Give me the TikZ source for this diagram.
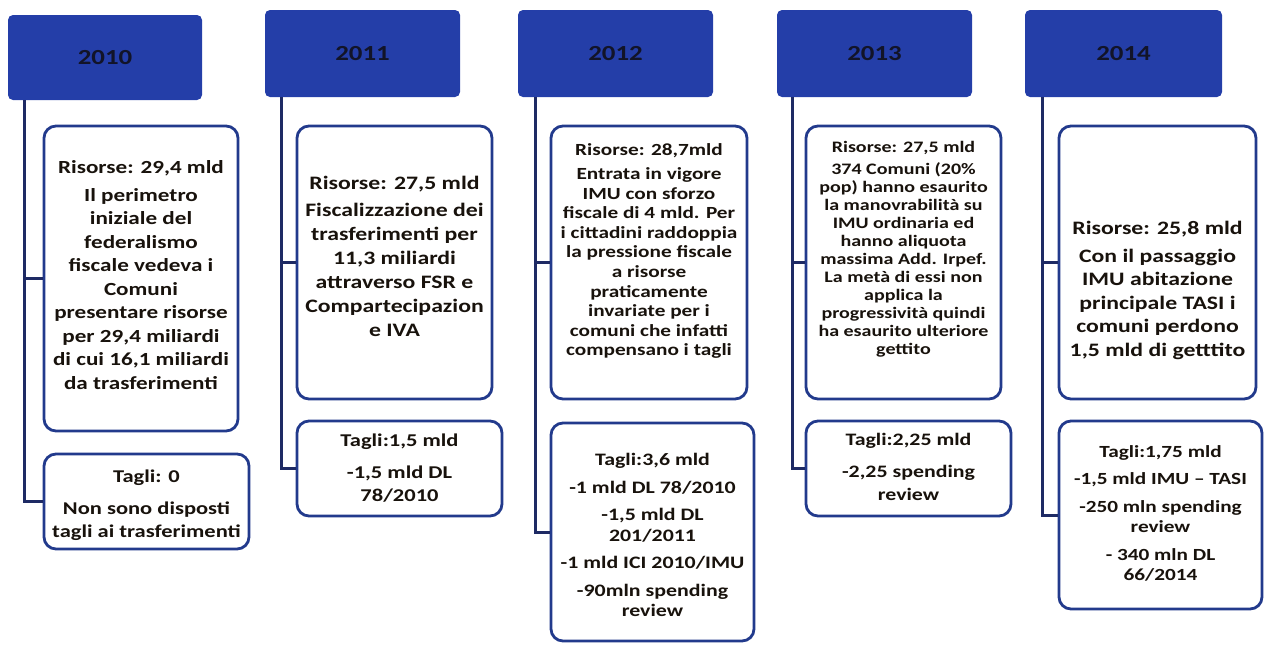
\documentclass[tikz,border=0pt]{standalone}
\usepackage{fontspec}
\setmainfont{Carlito}
\usepackage{graphicx}
\definecolor{hdrblue}{RGB}{36,62,168}
\definecolor{hdrtext}{RGB}{18,20,40}
\definecolor{bordblue}{RGB}{34,58,140}
\definecolor{connblue}{RGB}{30,42,100}
\definecolor{bodytext}{RGB}{24,18,12}
\newcommand\yeartext[1]{\scalebox{1.25}[1]{\fontsize{21.5}{24}\selectfont\bfseries #1}}
\newcommand\boxtext[3]{\scalebox{1.25}[1]{\fontsize{#1}{#2}\selectfont\bfseries\begin{tabular}{@{}c@{}}#3\end{tabular}}}
\tikzset{
  hdr/.style={rectangle, fill=hdrblue, rounded corners=5pt, text=hdrtext, inner sep=0pt},
  cbox/.style={rectangle, draw=bordblue, line width=2.8pt, rounded corners=12pt, fill=white, inner sep=0pt},
  btext/.style={inner sep=0pt, text=bodytext},
  conn/.style={draw=connblue, line width=3pt}
}
\begin{document}
\begin{tikzpicture}[x=1pt,y=-1pt]
\useasboundingbox (0,0) rectangle (1265,646);
% headers
\node[hdr, minimum width=194pt, minimum height=85pt] (h1) at (105,57.5) {\yeartext{2010}};
\node[hdr, minimum width=195pt, minimum height=87pt] (h2) at (362.5,53.5) {\yeartext{2011}};
\node[hdr, minimum width=195pt, minimum height=87pt] (h3) at (615.5,53.5) {\yeartext{2012}};
\node[hdr, minimum width=195pt, minimum height=87pt] (h4) at (874.5,53.5) {\yeartext{2013}};
\node[hdr, minimum width=197pt, minimum height=87pt] (h5) at (1123.5,53.5) {\yeartext{2014}};
% upper boxes
\node[cbox, minimum width=194pt, minimum height=305pt] (u1) at (141,278.5) {};
\node[cbox, minimum width=195pt, minimum height=273pt] (u2) at (394.5,262.5) {};
\node[cbox, minimum width=196pt, minimum height=273pt] (u3) at (649,262.5) {};
\node[cbox, minimum width=195pt, minimum height=273pt] (u4) at (903.5,262.5) {};
\node[cbox, minimum width=197pt, minimum height=273pt] (u5) at (1157.5,262.5) {};
% lower boxes
\node[cbox, minimum width=205pt, minimum height=95pt] (l1) at (146.5,501.5) {};
\node[cbox, minimum width=205pt, minimum height=95pt] (l2) at (399.5,468.5) {};
\node[cbox, minimum width=203pt, minimum height=218pt] (l3) at (652.5,532) {};
\node[cbox, minimum width=205pt, minimum height=95pt] (l4) at (908.5,468.5) {};
\node[cbox, minimum width=203pt, minimum height=188pt] (l5) at (1160.5,515) {};
% connectors
\draw[conn] ([xshift=17pt]h1.south west) |- (l1.west);
\draw[conn] ([xshift=17pt]h1.south west |- u1.west) -- (u1.west);
\draw[conn] ([xshift=17pt]h2.south west) |- (l2.west);
\draw[conn] ([xshift=17pt]h2.south west |- u2.west) -- (u2.west);
\draw[conn] ([xshift=18pt]h3.south west) |- (l3.west);
\draw[conn] ([xshift=18pt]h3.south west |- u3.west) -- (u3.west);
\draw[conn] ([xshift=16pt]h4.south west) |- (l4.west);
\draw[conn] ([xshift=16pt]h4.south west |- u4.west) -- (u4.west);
\draw[conn] ([xshift=18pt]h5.south west) |- (l5.west);
\draw[conn] ([xshift=18pt]h5.south west |- u5.west) -- (u5.west);
% texts
\node[btext] (t1) at (141,277) {\boxtext{18.5}{23.5}{Risorse: 29,4 mld\\[4pt] Il perimetro\\ iniziale del\\ federalismo\\ fiscale vedeva i\\ Comuni\\ presentare risorse\\ per 29,4 miliardi\\ di cui 16,1 miliardi\\ da trasferimenti}};
\node[btext] (s1) at (146.5,505) {\boxtext{18}{23}{Tagli: 0\\[9pt] Non sono disposti\\ tagli ai trasferimenti}};
\node[btext] (t2) at (394.5,258) {\boxtext{19}{24}{Risorse: 27,5 mld\\[3pt] Fiscalizzazione dei\\ trasferimenti per\\ 11,3 miliardi\\ attraverso FSR e\\ Compartecipazion\\ e IVA}};
\node[btext] (s2) at (399.5,469.5) {\boxtext{18}{23}{Tagli:1,5 mld\\[9pt] -1,5 mld DL\\ 78/2010}};
\node[btext] (t3) at (649,252) {\boxtext{17}{19.6}{Risorse: 28,7mld\\[4pt] Entrata in vigore\\ IMU con sforzo\\ fiscale di 4 mld. Per\\ i cittadini raddoppia\\ la pressione fiscale\\ a risorse\\ praticamente\\ invariate per i\\ comuni che infatti\\ compensano i tagli}};
\node[btext] (s3) at (652.5,537) {\boxtext{17.5}{20.5}{Tagli:3,6 mld\\[7pt] -1 mld DL 78/2010\\[7pt] -1,5 mld DL\\ 201/2011\\[7pt] -1 mld ICI 2010/IMU\\[7pt] -90mln spending\\ review}};
\node[btext] (t4) at (903.5,250) {\boxtext{16}{18}{Risorse: 27,5 mld\\[4pt] 374 Comuni (20\%\\ pop) hanno esaurito\\ la manovrabilità su\\ IMU ordinaria ed\\ hanno aliquota\\ massima Add. Irpef.\\ La metà di essi non\\ applica la\\ progressività quindi\\ ha esaurito ulteriore\\ gettito}};
\node[btext] (s4) at (908.5,468) {\boxtext{17.5}{23}{Tagli:2,25 mld\\[9pt] -2,25 spending\\ review}};
\node[btext] (t5) at (1157.5,291) {\boxtext{19}{23.5}{Risorse: 25,8 mld\\[4pt] Con il passaggio\\ IMU abitazione\\ principale TASI i\\ comuni perdono\\ 1,5 mld di getttito}};
\node[btext] (s5) at (1160.5,515) {\boxtext{17}{20.5}{Tagli:1,75 mld\\[7pt] -1,5 mld IMU – TASI\\[7pt] -250 mln spending\\ review\\[7pt] - 340 mln DL\\ 66/2014}};
\end{tikzpicture}
\end{document}
